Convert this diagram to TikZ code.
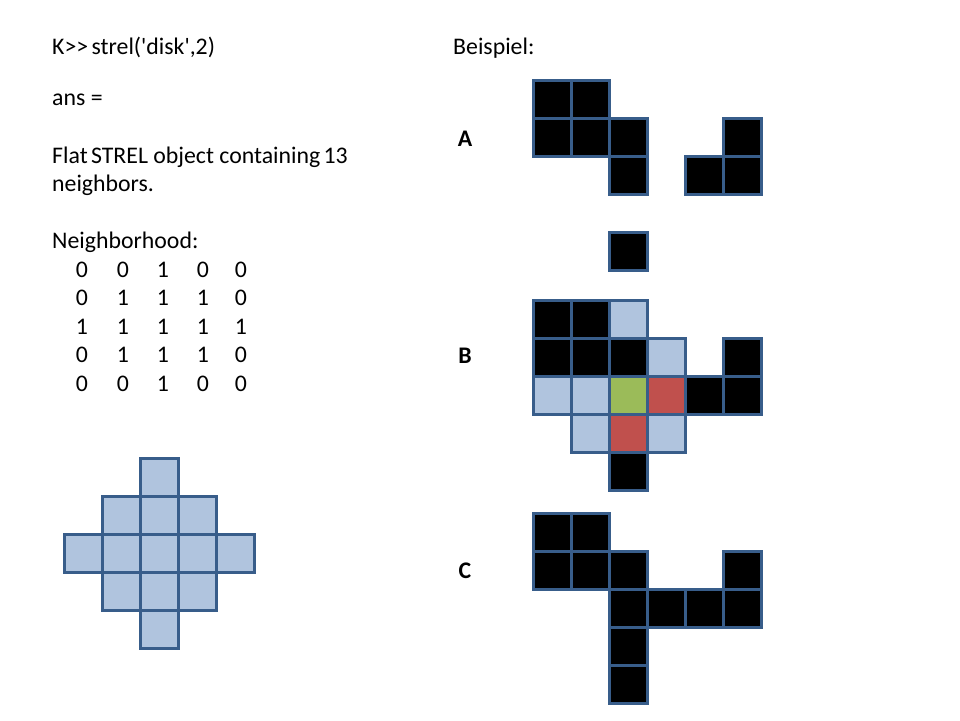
\documentclass[tikz,border=0pt]{standalone}
\usepackage{fontspec}
\setmainfont{Carlito}[Ligatures=TeXOff]
\usepackage{tikz}

\definecolor{cellline}{RGB}{56,93,138}
\definecolor{cellblue}{RGB}{176,196,222}
\definecolor{cellgreen}{RGB}{155,187,89}
\definecolor{cellred}{RGB}{192,80,77}

\begin{document}
\begin{tikzpicture}[x=1pt,y=-1pt,
    blackcell/.style={fill=black,draw=cellline,line width=3pt},
    bluecell/.style={fill=cellblue,draw=cellline,line width=3pt},
    greencell/.style={fill=cellgreen,draw=cellline,line width=3pt},
    redcell/.style={fill=cellred,draw=cellline,line width=3pt},
    txt/.style={anchor=base west,inner sep=0pt,font=\fontsize{23.8}{28}\selectfont},
    digit/.style={anchor=base,inner sep=0pt,font=\fontsize{23.8}{28}\selectfont},
    label/.style={anchor=base,inner sep=0pt,font=\fontsize{23.8}{28}\selectfont\bfseries}]

    \useasboundingbox (0,0) rectangle (960,720);

    % left column: strel output
    \node[txt] (cmd) at (52,54) {K>>\hspace{-2pt} strel('disk',2)};
    \node[txt] (ans) at (52,105) {ans =};
    \node[txt] (flat) at (52,163) {Flat\hspace{-2pt} STREL object containing\hspace{-2pt} 13};
    \node[txt] (nbrs) at (52,191) {neighbors.};
    \node[txt] (nhood) at (52,248) {Neighborhood:};

    \foreach \row/\a/\b/\c/\d/\e in {0/0/0/1/0/0, 1/0/1/1/1/0, 2/1/1/1/1/1, 3/0/1/1/1/0, 4/0/0/1/0/0} {
      \node[digit] at (82,277+28.5*\row) {\a};
      \node[digit] at (123,277+28.5*\row) {\b};
      \node[digit] at (163,277+28.5*\row) {\c};
      \node[digit] at (203,277+28.5*\row) {\d};
      \node[digit] at (241,277+28.5*\row) {\e};
    }

    % disk element
    \begin{scope}[shift={(64,458)}]
      \foreach \c/\r in {2/0, 1/1, 2/1, 3/1, 0/2, 1/2, 2/2, 3/2, 4/2, 1/3, 2/3, 3/3, 2/4}
        \draw[bluecell] (38*\c,38*\r) rectangle ++(38,38);
    \end{scope}

    % right column
    \node[txt] (beispiel) at (453,54) {Beispiel:};
    \node[label] (la) at (465,146) {A};
    \node[label] (lb) at (465,363) {B};
    \node[label] (lc) at (465,578) {C};

    \begin{scope}[shift={(533,80)}]
      \foreach \c/\r in {0/0, 1/0, 0/1, 1/1, 2/1, 2/2, 5/1, 4/2, 5/2, 2/4}
        \draw[blackcell] (38*\c,38*\r) rectangle ++(38,38);
    \end{scope}

    \begin{scope}[shift={(533,300)}]
      \foreach \c/\r in {0/0, 1/0, 0/1, 1/1, 2/1, 5/1, 4/2, 5/2, 2/4}
        \draw[blackcell] (38*\c,38*\r) rectangle ++(38,38);
      \foreach \c/\r in {2/0, 3/1, 0/2, 1/2, 1/3, 3/3}
        \draw[bluecell] (38*\c,38*\r) rectangle ++(38,38);
      \draw[greencell] (76,76) rectangle ++(38,38);
      \draw[redcell] (114,76) rectangle ++(38,38);
      \draw[redcell] (76,114) rectangle ++(38,38);
    \end{scope}

    \begin{scope}[shift={(533,513)}]
      \foreach \c/\r in {0/0, 1/0, 0/1, 1/1, 2/1, 5/1, 2/2, 3/2, 4/2, 5/2, 2/3, 2/4}
        \draw[blackcell] (38*\c,38*\r) rectangle ++(38,38);
    \end{scope}

  \end{tikzpicture}
\end{document}
